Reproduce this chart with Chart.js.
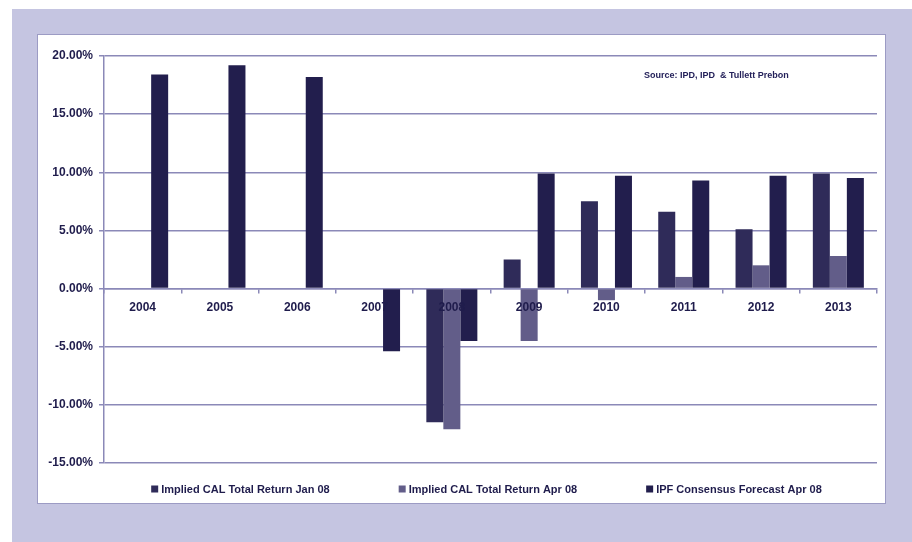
<!DOCTYPE html>
<html>
<head>
<meta charset="utf-8">
<script src="https://cdn.jsdelivr.net/npm/chart.js@4/dist/chart.umd.min.js"></script>
<style>
  html, body { margin: 0; padding: 0; background: #fff; }
  body { width: 912px; height: 542px; position: relative; overflow: hidden; }
  #frame { position: absolute; left: 12px; top: 9px; width: 900px; height: 533px; background: #c5c5e1; }
  #panel { position: absolute; left: 37px; top: 34px; width: 847px; height: 468px;
           background: #fff; border: 1px solid #9c9bc4; }
  #wrap { position: absolute; left: 0; top: 0; width: 847px; height: 468px; }
  #source { position: absolute; left: 606px; top: 35px; font: bold 9px "Liberation Sans Narrow", "Liberation Sans", Arial, sans-serif;
            color: #24215a; white-space: pre; }
</style>
</head>
<body>
<div id="frame"></div>
<div id="panel">
  <div id="wrap"><canvas id="returns"></canvas></div>
  <div id="source">Source: IPD, IPD  &amp; Tullett Prebon</div>
</div>
<script>
// total return by year, %
const years = ['2004', '2005', '2006', '2007', '2008', '2009', '2010', '2011', '2012', '2013'];
const calJan08 = [null, null, null, null, -11.5, 2.5, 7.5, 6.6, 5.1, 9.9];
const calApr08 = [null, null, null, null, -12.1, -4.5, -1.0, 1.0, 2.0, 2.8];
const ipfApr08 = [18.4, 19.2, 18.2, -5.4, -4.5, 9.9, 9.7, 9.3, 9.7, 9.5];

const yTicks = [-15, -10, -5, 0, 5, 10, 15, 20];

const ink = '#1f1c4c';
const gridColor = '#8b89b8';
const labelFont = { family: '"Liberation Sans", Arial, sans-serif', size: 12, weight: 'bold' };

// Excel-style legend: small squares, wide gaps, centred under the plot
const bottomLegend = {
    id: 'bottomLegend',
    afterDraw(chart) {
        const ctx = chart.ctx;
        const area = chart.chartArea;
        const gap = 69, box = 7, space = 3;
        ctx.save();
        ctx.font = 'bold 11px "Liberation Sans", Arial, sans-serif';
        ctx.textBaseline = 'middle';
        const items = chart.data.datasets.map(ds => ({
            ds: ds,
            w: box + space + ctx.measureText(ds.label).width
        }));
        const total = items.reduce((s, it) => s + it.w, 0) + gap * (items.length - 1);
        let x = (area.left + area.right) / 2 - total / 2 - 4;
        const y = area.bottom + 26;
        items.forEach(it => {
            ctx.fillStyle = it.ds.backgroundColor;
            ctx.fillRect(x, y - box / 2, box, box);
            ctx.fillStyle = ink;
            ctx.fillText(it.ds.label, x + box + space, y + 1);
            x += it.w + gap;
        });
        ctx.restore();
    }
};

new Chart(document.getElementById('returns'), {
    type: 'bar',
    data: {
        labels: years,
        datasets: [
            { label: 'Implied CAL Total Return Jan 08', data: calJan08, backgroundColor: '#2f2b59' },
            { label: 'Implied CAL Total Return Apr 08', data: calApr08, backgroundColor: '#625d89' },
            { label: 'IPF Consensus Forecast Apr 08', data: ipfApr08, backgroundColor: '#221e4d' },
        ]
    },
    options: {
        responsive: true,
        maintainAspectRatio: false,
        animation: false,
        categoryPercentage: 0.66,
        barPercentage: 1.0,
        layout: { padding: { top: 21, right: 8, left: 0, bottom: 40 } },
        scales: {
            x: {
                position: { y: 0 },
                grid: { offset: true, drawOnChartArea: false, drawTicks: true, tickLength: 4, color: gridColor, lineWidth: 1.5 },
                border: { display: true, color: gridColor, width: 1.5 },
                // year labels sit on top of the bars that cross the zero line
                ticks: { z: 1, color: ink, font: labelFont, padding: 8, maxRotation: 0 }
            },
            y: {
                min: -15,
                max: 20,
                afterFit: scale => { scale.width = 66; },
                afterBuildTicks: scale => { scale.ticks = yTicks.map(v => ({ value: v })); },
                grid: { color: gridColor, lineWidth: 1.5, tickLength: 5 },
                border: { display: true, color: gridColor, width: 1.5 },
                ticks: {
                    color: ink,
                    font: labelFont,
                    padding: 6,
                    callback: v => v.toFixed(2) + '%'
                }
            }
        },
        plugins: {
            legend: { display: false },
            tooltip: { enabled: false }
        }
    },
    plugins: [bottomLegend]
});
</script>
</body>
</html>
